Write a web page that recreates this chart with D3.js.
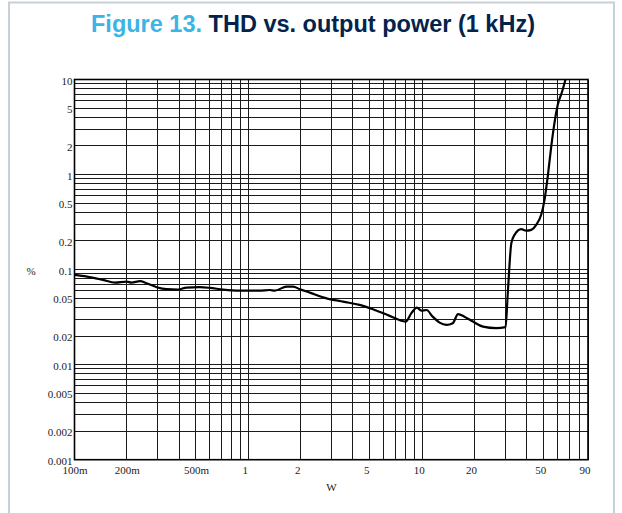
<!DOCTYPE html>
<html>
<head>
<meta charset="utf-8">
<script src="https://cdn.jsdelivr.net/npm/d3@7"></script>
<style>
  html, body { margin: 0; padding: 0; background: #fff; }
  svg { display: block; }
</style>
</head>
<body>
<svg id="chart" width="622" height="513"></svg>
<script>
// THD (%) measured against output power (W) at 1 kHz
const power = [0.1, 0.118, 0.146, 0.171, 0.2, 0.213, 0.238, 0.26, 0.297, 0.339,
  0.395, 0.441, 0.526, 0.601, 0.716, 0.893, 1.16, 1.33, 1.42, 1.66,
  1.81, 1.98, 2.26, 2.69, 2.94, 3.28, 3.51, 4.37, 5.21, 6.5,
  8.04, 8.67, 9.33, 9.9, 10.6, 11.5, 12.6, 13.8, 15.0, 16.1,
  17.5, 19.6, 22.4, 26.7, 30.2, 31.1, 32.6, 34.0, 37.2, 39.7,
  42.4, 45.3, 48.4, 50.6, 52.8, 55.3, 57.7, 60.3, 63.9, 66.8];
const thd = [0.088, 0.0844, 0.0779, 0.073, 0.0748, 0.073, 0.0755, 0.0719, 0.0653, 0.0622,
  0.0616, 0.0647, 0.0653, 0.0642, 0.0616, 0.0601, 0.0601, 0.061, 0.0601, 0.0662,
  0.0662, 0.0622, 0.0573, 0.0512, 0.0488, 0.0472, 0.046, 0.0425, 0.0383, 0.0326,
  0.0284, 0.0348, 0.0398, 0.037, 0.0376, 0.032, 0.0277, 0.0262, 0.0273, 0.034,
  0.032, 0.0284, 0.0251, 0.0242, 0.0248, 0.0565, 0.19, 0.232, 0.266, 0.257,
  0.262, 0.296, 0.377, 0.542, 0.952, 1.97, 3.48, 5.42, 7.48, 10.0];

const xTickValues = [0.1, 0.2, 0.5, 1, 2, 5, 10, 20, 50, 90];
const xTickLabels = ["100m", "200m", "500m", "1", "2", "5", "10", "20", "50", "90"];
const yTickValues = [0.001, 0.002, 0.005, 0.01, 0.02, 0.05, 0.1, 0.2, 0.5, 1, 2, 5, 10];
const yTickLabels = ["0.001", "0.002", "0.005", "0.01", "0.02", "0.05", "0.1", "0.2", "0.5", "1", "2", "5", "10"];

const titleLead = "Figure 13.";
const titleText = "THD vs. output power (1 kHz)";
const xTitle = "W";
const yTitle = "%";

const svg = d3.select("#chart");
const W = 622, H = 513;
const plot = { left: 74.5, right: 588, top: 79.5, bottom: 459.7 };

// Panel frame
svg.append("path")
  .attr("d", `M9,${H} V2.5 H614 V${H}`)
  .attr("fill", "none")
  .attr("stroke", "#c8d0d8")
  .attr("stroke-width", 2);

// Title
const title = svg.append("text")
  .attr("x", 313).attr("y", 32)
  .attr("text-anchor", "middle")
  .style("font-family", "'Liberation Sans', Arial, sans-serif")
  .style("font-weight", "bold")
  .style("font-size", "23.5px");
title.append("tspan").attr("fill", "#3cb4e6").text(titleLead + " ");
title.append("tspan").attr("fill", "#03234b").text(titleText);

const x = d3.scaleLog().domain([0.1, 90]).range([plot.left, plot.right]);
const y = d3.scaleLog().domain([0.001, 10]).range([plot.bottom, plot.top]);

// Log grid: 1..9 in every decade
const xGrid = [];
[0.1, 1, 10].forEach(dec => { for (let k = 1; k <= 9; k++) xGrid.push(+(dec * k).toPrecision(3)); });
const yGrid = [];
[0.001, 0.01, 0.1, 1].forEach(dec => { for (let k = 1; k <= 9; k++) yGrid.push(+(dec * k).toPrecision(3)); });
yGrid.push(10);

const grid = svg.append("g")
  .attr("stroke", "#1a1a1a")
  .attr("stroke-width", 1)
  .attr("shape-rendering", "crispEdges");
grid.selectAll("line.v").data(xGrid).join("line")
  .attr("class", "v")
  .attr("x1", d => x(d)).attr("x2", d => x(d))
  .attr("y1", plot.top).attr("y2", plot.bottom);
grid.selectAll("line.h").data(yGrid).join("line")
  .attr("class", "h")
  .attr("x1", plot.left).attr("x2", plot.right)
  .attr("y1", d => y(d)).attr("y2", d => y(d));

// Plot border
svg.append("rect")
  .attr("x", plot.left).attr("y", plot.top)
  .attr("width", plot.right - plot.left)
  .attr("height", plot.bottom - plot.top)
  .attr("fill", "none")
  .attr("stroke", "#000")
  .attr("stroke-width", 1.6);

const serif = "'Liberation Serif', 'Times New Roman', serif";

// Axes (labels only)
const xAxis = svg.append("g")
  .attr("transform", `translate(0,${plot.bottom})`)
  .call(d3.axisBottom(x).tickValues(xTickValues)
    .tickFormat((d, i) => xTickLabels[i]).tickSize(0).tickPadding(6.5));
xAxis.select(".domain").remove();
xAxis.selectAll("text")
  .attr("dx", (d, i) => xTickLabels[i].endsWith("m") ? 0 : -3.5)
  .style("font-family", serif).style("font-size", "11px").attr("fill", "#222");

const yAxis = svg.append("g")
  .attr("transform", `translate(${plot.left - 2},0)`)
  .call(d3.axisLeft(y).tickValues(yTickValues)
    .tickFormat((d, i) => yTickLabels[i]).tickSize(0).tickPadding(0));
yAxis.select(".domain").remove();
yAxis.selectAll("text")
  .attr("dy", "0.42em")
  .style("font-family", serif).style("font-size", "11px").attr("fill", "#222");

svg.append("text")
  .attr("x", 331.5).attr("y", 491)
  .attr("text-anchor", "middle")
  .style("font-family", serif).style("font-size", "11px").attr("fill", "#222")
  .text(xTitle);
svg.append("text")
  .attr("x", 31).attr("y", 275)
  .attr("text-anchor", "middle")
  .style("font-family", serif).style("font-size", "11px").attr("fill", "#222")
  .text(yTitle);

// Curve
svg.append("clipPath").attr("id", "plotClip")
  .append("rect")
  .attr("x", plot.left).attr("y", plot.top)
  .attr("width", plot.right - plot.left)
  .attr("height", plot.bottom - plot.top);

const points = power.map((p, i) => [p, thd[i]]);
const line = d3.line()
  .x(d => x(d[0]))
  .y(d => y(d[1]))
  .curve(d3.curveMonotoneX);

svg.append("path")
  .datum(points)
  .attr("clip-path", "url(#plotClip)")
  .attr("fill", "none")
  .attr("stroke", "#000")
  .attr("stroke-width", 2.2)
  .attr("stroke-linejoin", "round")
  .attr("d", line);
</script>
</body>
</html>
